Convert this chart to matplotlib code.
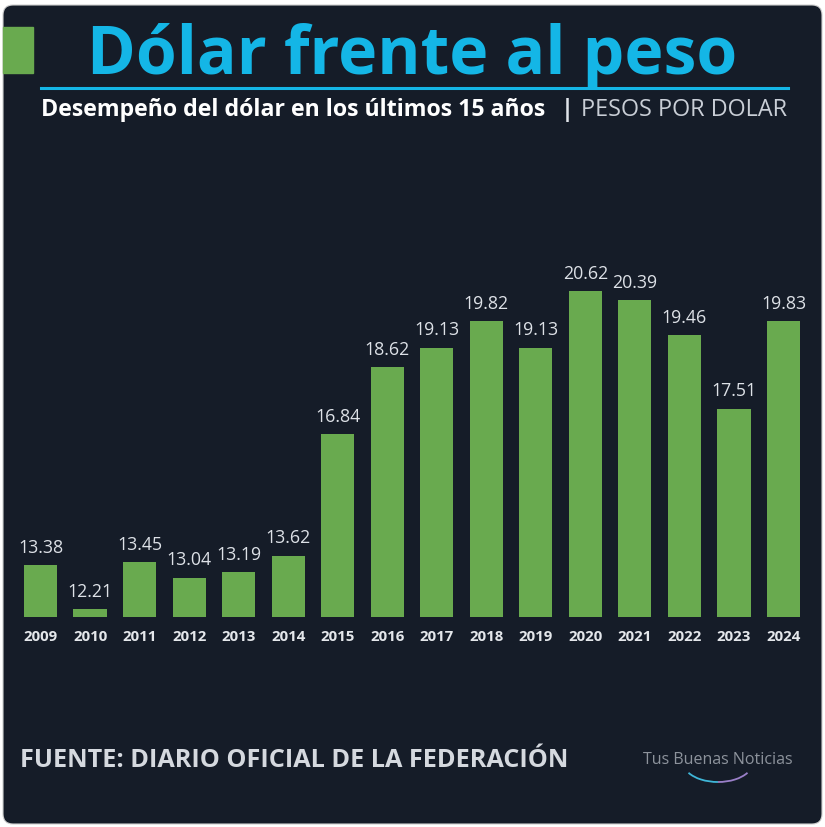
import matplotlib.pyplot as plt
import numpy as np
from matplotlib.patches import FancyBboxPatch, Rectangle, Arc

years = ['2009', '2010', '2011', '2012', '2013', '2014', '2015', '2016',
         '2017', '2018', '2019', '2020', '2021', '2022', '2023', '2024']
values = [13.38, 12.21, 13.45, 13.04, 13.19, 13.62, 16.84, 18.62,
          19.13, 19.82, 19.13, 20.62, 20.39, 19.46, 17.51, 19.83]

BG = '#151c28'
GREEN = '#69aa4f'
CYAN = '#14b6e6'
W, H = 825, 827

plt.rcParams['font.family'] = ['Open Sans', 'DejaVu Sans']

fig = plt.figure(figsize=(W / 100, H / 100), dpi=100)
fig.patch.set_facecolor('white')

# dark rounded panel (behind the axes)
panel = FancyBboxPatch((3 / W, 3 / H), (W - 6) / W, (H - 8) / H,
                       boxstyle='round,pad=0,rounding_size=0.012',
                       transform=fig.transFigure, facecolor=BG,
                       edgecolor='#d0d0d0', linewidth=0.8, zorder=-5)
fig.patches.append(panel)

def fx(px):
    return px / W

def fy(py):
    return 1 - py / H

# header
fig.patches.append(Rectangle((fx(3), fy(73)), 30 / W, 46 / H,
                             transform=fig.transFigure, color=GREEN))
fig.text(fx(412), fy(74), 'Dólar frente al peso', color=CYAN, fontsize=47.5,
         fontweight='bold', ha='center', va='baseline')
fig.lines.append(plt.Line2D([fx(41), fx(788)], [fy(88), fy(88)],
                            transform=fig.transFigure, color=CYAN, linewidth=2.2))
fig.text(fx(41), fy(116), 'Desempeño del dólar en los últimos 15 años',
         color='white', fontsize=16.7, fontweight='bold', ha='left', va='baseline')
fig.text(fx(561), fy(116), '|', color='#e0e4ea', fontsize=16.8,
         fontweight='bold', ha='left', va='baseline')
fig.text(fx(787), fy(116), 'PESOS POR DOLAR', color='#c9ced6', fontsize=16.8,
         ha='right', va='baseline')

# bars
ax = fig.add_axes([15.75 / W, 210 / H, (808.25 - 15.75) / W, (617 - 258) / H])
ax.set_facecolor('none')
x = np.arange(len(years))
ax.bar(x, np.array(values) - 12, bottom=12, width=0.67, color=GREEN)
for xi, v in zip(x, values):
    ax.annotate(f'{v:.2f}', (xi, v), xytext=(0, 6), textcoords='offset points',
                ha='center', va='bottom', color='#dde1e7', fontsize=12.8)
ax.set_xlim(-0.5, len(years) - 0.5)
ax.set_ylim(12, 21.5)
ax.set_xticks(x)
ax.set_xticklabels(years, color='#e4e7eb', fontsize=10.8, fontweight='bold')
ax.tick_params(axis='x', length=0, pad=9.5)
ax.set_yticks([])
for s in ax.spines.values():
    s.set_visible(False)

# footer
fig.text(fx(20), fy(767), 'FUENTE: DIARIO OFICIAL DE LA FEDERACIÓN',
         color='#d5d9df', fontsize=18.2, fontweight='bold', ha='left', va='baseline')
fig.text(fx(718), fy(760), 'Tus Buenas Noticias', color='#8d939c', fontsize=11.5,
         ha='center', va='center')
# logo smile
fig.patches.append(Arc((fx(718), fy(762)), 70 / W, 40 / H, theta1=200, theta2=270,
                       transform=fig.transFigure, color='#3fb6d8', linewidth=1.3))
fig.patches.append(Arc((fx(718), fy(762)), 70 / W, 40 / H, theta1=270, theta2=340,
                       transform=fig.transFigure, color='#9a7fc8', linewidth=1.3))

fig.savefig('out.png', dpi=100, facecolor=fig.get_facecolor())
